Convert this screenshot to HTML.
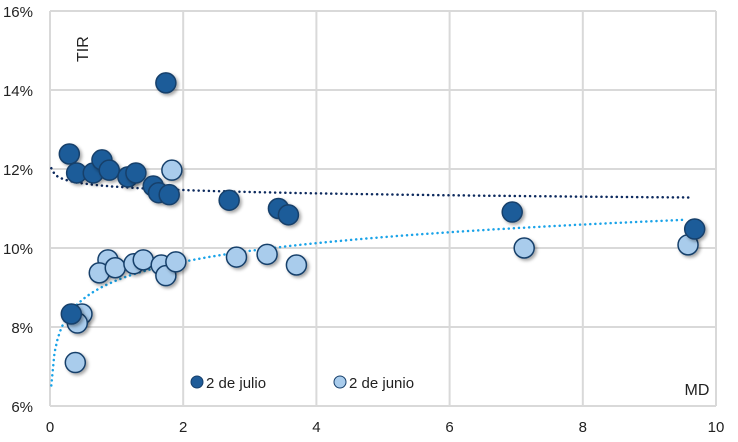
<!DOCTYPE html>
<html><head><meta charset="utf-8"><style>
body{margin:0;background:#fff;}
svg{display:block;font-family:"Liberation Sans",sans-serif;}
</style></head><body>
<svg id="chart" width="738" height="442" viewBox="0 0 738 442">
<defs><filter id="sh" x="-50%" y="-50%" width="200%" height="200%"><feDropShadow dx="2" dy="2" stdDeviation="1.5" flood-color="#000" flood-opacity="0.35"/></filter></defs>
<g id="grid"></g>
<g id="trends"></g>
<g id="pts"></g>
<text x="60" y="62" font-size="16" fill="#222" transform="rotate(-90 74 48)">TIR</text>
<text x="697" y="395" font-size="16" fill="#222" text-anchor="middle">MD</text>
<g>
<g><circle cx="197" cy="382" r="6" fill="#1f5c99" stroke="#163f6b"/><text x="206" y="388" font-size="15" fill="#222">2 de julio</text></g>
<g><circle cx="340" cy="382" r="6" fill="#a9ccec" stroke="#163f6b"/><text x="349" y="388" font-size="15" fill="#222">2 de junio</text></g>
</g>
</svg>
<script>
const xTicks=[0,2,4,6,8,10];
const yTicks=[6,8,10,12,14,16];
const julioX=[0.29,0.40,0.65,0.78,0.89,1.17,1.29,1.55,1.63,1.79,1.74,2.69,3.43,3.58,0.32,6.94,9.68];
const julioY=[12.38,11.9,11.9,12.23,11.97,11.8,11.9,11.57,11.4,11.35,14.18,11.21,11.0,10.84,8.33,10.91,10.48];
const junioX=[1.83,0.87,0.74,0.98,1.26,1.40,1.67,1.74,1.89,2.8,3.26,3.7,0.48,0.41,0.38,7.12,9.58];
const junioY=[11.97,9.7,9.37,9.5,9.6,9.7,9.57,9.3,9.65,9.77,9.84,9.57,8.33,8.1,7.1,10.0,10.08];
const trendJulio=[11.55,-0.12];
const trendJunio=[9.18,0.68];
const X0=50,X1=716,Y0=406,Y1=11;
const sx=v=>X0+(v-0)/(10-0)*(X1-X0);
const sy=v=>Y0-(v-6)/(16-6)*(Y0-Y1);
const NS="http://www.w3.org/2000/svg";
const svg=document.getElementById('chart');
function mk(t,a,p){const e=document.createElementNS(NS,t);for(const k in a)e.setAttribute(k,a[k]);p.appendChild(e);return e;}
const g=document.getElementById('grid');
xTicks.forEach(t=>{
 const l=mk('line',{x1:sx(t),x2:sx(t),y1:Y1,y2:Y0,stroke:'#d9d9d9','stroke-width':2},g);
 
 
 const tx=mk('text',{x:sx(t),y:432,'font-size':15,fill:'#222','text-anchor':'middle'},svg);
 tx.textContent=t;
 
 
});
yTicks.forEach(t=>{
 const l=mk('line',{x1:X0,x2:X1,y1:sy(t),y2:sy(t),stroke:'#d9d9d9','stroke-width':2},g);
 
 
 const tx=mk('text',{x:33,y:sy(t)+6,'font-size':15,fill:'#222','text-anchor':'end'},svg);
 tx.textContent=t+'%';
 
 
});
const tg=document.getElementById('trends');
function trend(c,col,x0,x1,name){
 let d='';for(let i=0;i<=200;i++){const x=x0+(x1-x0)*i/200;const y=c[0]+c[1]*Math.log(x);d+=(i?'L':'M')+sx(x).toFixed(1)+','+sy(y).toFixed(1);}
 const p=mk('path',{d:d,fill:'none',stroke:col,'stroke-width':2.5,'stroke-dasharray':'0.1 5','stroke-linecap':'round'},tg);
 
 
}
trend(trendJulio,'#0d2a5e',0.02,9.65,'trend-julio');
trend(trendJunio,'#1aa3e8',0.02,9.55,'trend-junio');
const pg=document.getElementById('pts');
junioX.forEach((x,i)=>{
 const c=mk('circle',{cx:sx(x),cy:sy(junioY[i]),r:10,fill:'#a9ccec',stroke:'#163f6b','stroke-width':1.5,filter:'url(#sh)'},pg);
 
 
});
julioX.forEach((x,i)=>{
 const c=mk('circle',{cx:sx(x),cy:sy(julioY[i]),r:10,fill:'#1f5c99',stroke:'#163f6b','stroke-width':1.5,filter:'url(#sh)'},pg);
 
 
});
</script>
</body></html>
